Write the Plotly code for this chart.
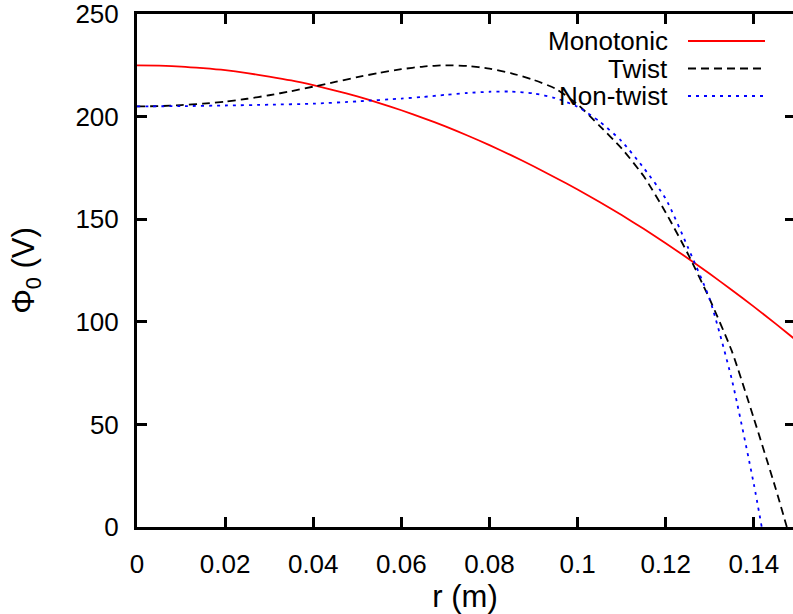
import plotly.graph_objects as go

# Radial positions (m)
r = [0.0, 0.005, 0.01, 0.015, 0.02, 0.025, 0.03, 0.035, 0.04, 0.045, 0.05,
     0.055, 0.06, 0.065, 0.07, 0.075, 0.08, 0.085, 0.09, 0.095, 0.1,
     0.105, 0.11, 0.115, 0.12, 0.125, 0.13, 0.135, 0.14, 0.145, 0.15]

# Monotonic potential profile (V)
phi_monotonic = [225.0, 224.8, 224.4, 223.6, 222.6, 221.2, 219.5, 217.6, 215.3, 212.7, 209.8,
                 206.6, 203.1, 199.3, 195.2, 190.8, 186.1, 181.1, 175.8, 170.2, 164.5,
                 158.4, 152.0, 145.3, 138.3, 131.0, 123.4, 115.5, 107.4, 99.0, 90.3]

# Twist profile (V)
r_twist = [0.0, 0.005, 0.01, 0.015, 0.02, 0.025, 0.03, 0.035, 0.04, 0.045, 0.05,
           0.055, 0.06, 0.065, 0.07, 0.075, 0.08, 0.085, 0.09, 0.095, 0.1,
           0.105, 0.11, 0.115, 0.12, 0.125, 0.13, 0.135, 0.14, 0.145, 0.1475]
phi_twist = [205.0, 205.1, 205.6, 206.3, 207.3, 208.7, 210.4, 212.4, 214.6, 216.9, 219.2,
             221.3, 223.1, 224.4, 225.0, 224.7, 223.4, 221.1, 217.9, 213.6, 206.0,
             195.5, 184.5, 171.0, 153.3, 133.3, 111.0, 85.8, 53.0, 18.5, 0.0]

# Non-twist profile (V)
r_nontwist = [0.0, 0.01, 0.02, 0.03, 0.04, 0.05, 0.06, 0.065, 0.07, 0.075, 0.08,
              0.085, 0.09, 0.095, 0.1, 0.105, 0.11, 0.115, 0.12, 0.125, 0.13,
              0.135, 0.14, 0.1418]
phi_nontwist = [205.0, 205.1, 205.4, 205.8, 206.3, 207.4, 208.8, 209.6, 210.6, 211.5, 212.1,
                212.2, 211.3, 209.0, 204.8, 197.6, 188.0, 175.0, 160.0, 136.5, 110.9,
                72.0, 21.0, 0.0]

x_ticks = [0, 0.02, 0.04, 0.06, 0.08, 0.1, 0.12, 0.14]
x_ticktext = ["0", "0.02", "0.04", "0.06", "0.08", "0.1", "0.12", "0.14"]
y_ticks = [0, 50, 100, 150, 200, 250]

series_names = ["Monotonic", "Twist", "Non-twist"]
series_colors = ["#ff0000", "#000000", "#0000ff"]
series_dash = ["solid", "8px,5px", "3px,5px"]

W, H = 793, 614
L, R, T, B = 137, 0, 14, 87
X_MAX = 0.1489
Y_MAX = 250
FONT = "Liberation Sans, Arial, Helvetica, sans-serif"

fig = go.Figure()
data = [(r, phi_monotonic), (r_twist, phi_twist), (r_nontwist, phi_nontwist)]
for (xs, ys), name, col, dash in zip(data, series_names, series_colors, series_dash):
    fig.add_trace(go.Scatter(x=xs, y=ys, mode="lines", name=name,
                             line=dict(color=col, width=1.8, dash=dash, shape="spline",
                                       smoothing=0.6),
                             showlegend=False, cliponaxis=True))

# invisible trace carrying the right-hand tick axis
fig.add_trace(go.Scatter(x=[0.05], y=[100], xaxis="x", yaxis="y2", mode="markers",
                         marker=dict(opacity=0), showlegend=False, hoverinfo="skip"))

# key drawn gnuplot-style: right-aligned labels with samples to the right
pw, ph = W - L - R, H - T - B
def px_x(p):
    return (p - L) / pw
def px_y(p):
    return (H - B - p) / ph

key_rows = [41, 68.5, 96]
for name, col, dash, yy in zip(series_names, series_colors, series_dash, key_rows):
    fig.add_annotation(x=px_x(670), y=px_y(yy), xref="paper", yref="paper",
                       text=name, showarrow=False, xanchor="right", yanchor="middle",
                       font=dict(family=FONT, size=26, color="#000000"))
    fig.add_shape(type="line", xref="paper", yref="paper",
                  x0=px_x(688), x1=px_x(765), y0=px_y(yy), y1=px_y(yy),
                  line=dict(color=col, width=1.8, dash=dash))

fig.update_layout(
    width=W, height=H,
    margin=dict(l=L, r=R, t=T, b=B),
    paper_bgcolor="white", plot_bgcolor="white",
    font=dict(family=FONT, size=26, color="#000000"),
    xaxis=dict(range=[0, X_MAX], tickvals=x_ticks, ticktext=x_ticktext,
               ticks="inside", ticklen=10, tickwidth=3, tickcolor="#000000",
               showline=True, linewidth=3, linecolor="#000000", mirror="ticks",
               showgrid=False, zeroline=False,
               title=dict(text="r (m)", standoff=10),
               ticklabelstandoff=12, ticklabeloverflow="allow"),
    yaxis=dict(range=[0, Y_MAX], tickvals=y_ticks,
               ticks="inside", ticklen=10, tickwidth=3, tickcolor="#000000",
               showline=True, linewidth=3, linecolor="#000000", mirror=False,
               showgrid=False, zeroline=False,
               title=dict(text="Φ<sub>0</sub> (V)", standoff=32),
               ticklabelstandoff=10, ticklabeloverflow="allow"),
    yaxis2=dict(range=[0, Y_MAX], tickvals=y_ticks, overlaying="y", side="right",
                anchor="x", ticks="inside", ticklen=8, tickwidth=3, tickcolor="#000000",
                showticklabels=False, showline=False, showgrid=False, zeroline=False),
)

fig.write_html("out.html")
